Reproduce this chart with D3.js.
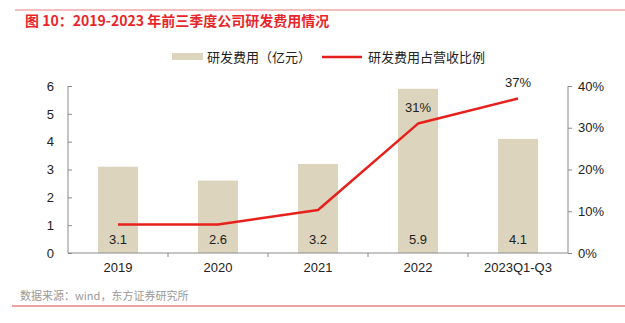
<!DOCTYPE html>
<html>
<head>
<meta charset="utf-8">
<script src="https://cdn.jsdelivr.net/npm/d3@7"></script>
<style>
  body { margin: 0; background: #fff; }
  text { font-family: "Liberation Sans", "Noto Sans CJK SC", sans-serif; }
</style>
</head>
<body>
<div id="chart"></div>
<script>
// Categories and series
const years = ["2019", "2020", "2021", "2022", "2023Q1-Q3"];
const rdSpend = [3.1, 2.6, 3.2, 5.9, 4.1];          // 亿元
const rdRatio = [6.8, 6.8, 10.3, 31, 37];           // % of revenue
const ratioLabels = [null, null, null, "31%", "37%"];
const leftTicks = [0, 1, 2, 3, 4, 5, 6];
const rightTicks = [0, 10, 20, 30, 40];

const W = 625, H = 323;
const svg = d3.select("#chart").append("svg")
    .attr("width", W)
    .attr("height", H);

const cjk = "'Noto Sans CJK SC', sans-serif";

// header rule and title
svg.append("line")
    .attr("x1", 15).attr("x2", W).attr("y1", 10).attr("y2", 10)
    .attr("stroke", "#f0a8a8").attr("stroke-width", 1.5);
svg.append("text")
    .attr("x", 25).attr("y", 26)
    .attr("fill", "#e8262a")
    .attr("font-size", 14).attr("font-weight", "bold")
    .style("font-family", cjk)
    .text("图 10：2019-2023 年前三季度公司研发费用情况");

// plot area
const plotL = 68, plotR = 568, plotT = 86, plotB = 253;

const x = d3.scaleBand().domain(years).range([plotL, plotR]);
const yL = d3.scaleLinear().domain([0, 6]).range([plotB, plotT]);
const yR = d3.scaleLinear().domain([0, 40]).range([plotB, plotT]);

const barColor = "#ddd4bd";
const lineColor = "#e8201c";
const barW = 40;

// bars
svg.selectAll("rect.bar")
    .data(rdSpend)
    .join("rect")
    .attr("class", "bar")
    .attr("x", (d, i) => x(years[i]) + x.bandwidth() / 2 - barW / 2)
    .attr("y", d => yL(d))
    .attr("width", barW)
    .attr("height", d => plotB - yL(d))
    .attr("fill", barColor);

// bar value labels at the foot of each bar
svg.selectAll("text.barlab")
    .data(rdSpend)
    .join("text")
    .attr("class", "barlab")
    .attr("x", (d, i) => x(years[i]) + x.bandwidth() / 2)
    .attr("y", plotB - 9)
    .attr("text-anchor", "middle")
    .attr("font-size", 13)
    .attr("fill", "#222")
    .text(d => d.toFixed(1));

// axes
const axisColor = "#8a8a8a";
const gL = svg.append("g")
    .attr("transform", `translate(${plotL},0)`)
    .call(d3.axisLeft(yL).tickValues(leftTicks).tickSize(-4).tickPadding(14)
        .tickFormat(d3.format("d")));
const gR = svg.append("g")
    .attr("transform", `translate(${plotR},0)`)
    .call(d3.axisRight(yR).tickValues(rightTicks).tickSize(4).tickPadding(6)
        .tickFormat(d => d + "%"));
const gX = svg.append("g")
    .attr("transform", `translate(0,${plotB})`)
    .call(d3.axisBottom(x).tickSize(0).tickPadding(10));

[gL, gR, gX].forEach(g => {
    g.select(".domain").attr("stroke", axisColor);
    g.selectAll(".tick line").attr("stroke", axisColor);
    g.selectAll("text")
        .attr("font-size", 13)
        .attr("fill", "#222")
        .style("font-family", "'Liberation Sans', sans-serif");
});
gR.select(".domain").attr("d", `M0,${plotT}V${plotB}`);
gL.select(".domain").attr("d", `M0,${plotT}V${plotB}`);
gX.select(".domain").attr("d", `M${plotL},0H${plotR}`);

// category separators on the x axis
svg.selectAll("line.sep")
    .data(years.slice(1))
    .join("line")
    .attr("class", "sep")
    .attr("x1", d => x(d)).attr("x2", d => x(d))
    .attr("y1", plotB).attr("y2", plotB + 4)
    .attr("stroke", axisColor);

// ratio line
const line = d3.line()
    .x((d, i) => x(years[i]) + x.bandwidth() / 2)
    .y(d => yR(d));
svg.append("path")
    .datum(rdRatio)
    .attr("d", line)
    .attr("fill", "none")
    .attr("stroke", lineColor)
    .attr("stroke-width", 2.5)
    .attr("stroke-linejoin", "round");

svg.selectAll("text.ratiolab")
    .data(rdRatio)
    .join("text")
    .attr("class", "ratiolab")
    .attr("x", (d, i) => x(years[i]) + x.bandwidth() / 2)
    .attr("y", d => yR(d) - 12)
    .attr("text-anchor", "middle")
    .attr("font-size", 13)
    .attr("fill", "#222")
    .text((d, i) => ratioLabels[i] || "");

// legend
const lg = svg.append("g");
lg.append("rect")
    .attr("x", 172).attr("y", 53).attr("width", 31).attr("height", 7)
    .attr("fill", barColor);
lg.append("text")
    .attr("x", 207).attr("y", 62)
    .attr("font-size", 13).attr("fill", "#222")
    .style("font-family", cjk)
    .text("研发费用（亿元）");
lg.append("line")
    .attr("x1", 322).attr("x2", 362).attr("y1", 57).attr("y2", 57)
    .attr("stroke", lineColor).attr("stroke-width", 2.5);
lg.append("text")
    .attr("x", 368).attr("y", 62)
    .attr("font-size", 13).attr("fill", "#222")
    .style("font-family", cjk)
    .text("研发费用占营收比例");

// source and footer rule
svg.append("text")
    .attr("x", 20).attr("y", 300)
    .attr("font-size", 11).attr("fill", "#999")
    .style("font-family", cjk)
    .text("数据来源：wind，东方证券研究所");
svg.append("line")
    .attr("x1", 12).attr("x2", W).attr("y1", 306).attr("y2", 306)
    .attr("stroke", "#d9463e").attr("stroke-width", 1);
</script>
</body>
</html>
